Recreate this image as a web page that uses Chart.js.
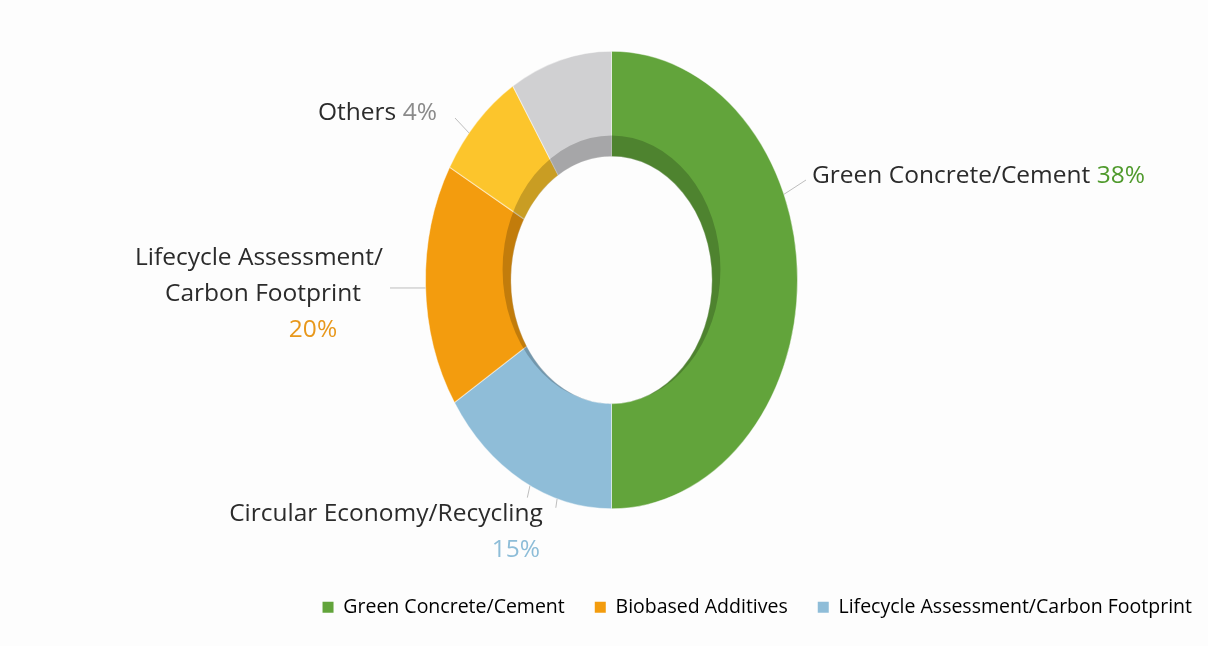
<!DOCTYPE html>
<html lang="en">
<head>
  <meta charset="UTF-8">
  <title>Research focus share</title>
  <script src="https://cdn.jsdelivr.net/npm/chart.js"></script>
  <style>
    html, body { margin: 0; padding: 0; background: #fdfdfd; }
    .wrap { width: 1208px; height: 646px; position: relative; }
  </style>
</head>
<body>
  <div class="wrap"><canvas id="donut"></canvas></div>

<script>
  // slices, clockwise from 12 o'clock (share of the ring as drawn)
  const sliceNames  = ['Green Concrete/Cement', 'Circular Economy/Recycling', 'Lifecycle Assessment/Carbon Footprint', 'Others', 'Unlabelled'];
  const sliceShares = [50, 16.0, 17.2, 7.9, 8.9];
  const sliceColors = ['#62a43b', '#8fbdd8', '#f39c0e', '#fcc52c', '#d0d0d2'];

  // callout text and printed percentages
  const calloutText = [['Green Concrete/Cement'], ['Circular Economy/Recycling'], ['Lifecycle Assessment/', 'Carbon Footprint'], ['Others'], []];
  const calloutPct  = ['38%', '15%', '20%', '4%', ''];
  const pctColors   = ['#4f9a2c', '#8dbdd8', '#e8981c', '#8a8a8a', '#8a8a8a'];

  // legend (as printed under the chart)
  const legendNames  = ['Green Concrete/Cement', 'Biobased Additives', 'Lifecycle Assessment/Carbon Footprint'];
  const legendColors = ['#62a43b', '#f39c0e', '#8fbdd8'];

  // look & placement
  const STRETCH  = 1.23;   // ring is drawn as a tall ellipse
  const CENTER_Y = 280;
  const FONT = "'Open Sans', 'Noto Sans', sans-serif";
  const layout = [
    { ticks: [[68, 806, 180]], lines: [[812, 176, 'left']], pct: 'inline' },
    { ticks: [[206, 0, 12], [197, 0, 9]], lines: [[386, 514, 'center']], pct: [540, 550, 'right'] },
    { ticks: [[268, 390, null]], lines: [[259, 258, 'center'], [263, 294, 'center']], pct: [313, 330, 'center'] },
    { ticks: [[310, 455, 118]], lines: [[318, 113, 'left']], pct: 'inline' },
    { ticks: [], lines: [], pct: null }
  ];

  // point on the (stretched) outer edge at a clockwise angle from the top
  function edgePoint(arc, deg) {
    const a = deg * Math.PI / 180;
    return [arc.x + arc.outerRadius * Math.sin(a), CENTER_Y - arc.outerRadius * Math.cos(a) * STRETCH];
  }

  const ellipse = {
    id: 'ellipse',
    beforeDatasetsDraw(chart) {
      const arc = chart.getDatasetMeta(0).data[0];
      const ctx = chart.ctx;
      ctx.save();
      ctx.translate(arc.x, CENTER_Y);
      ctx.scale(1, STRETCH);
      ctx.translate(-arc.x, -arc.y);
    },
    afterDatasetsDraw(chart) {
      const arc = chart.getDatasetMeta(0).data[0];
      const ctx = chart.ctx;
      // inner wall shading (crescent along the top of the hole)
      const ri = arc.innerRadius, shift = 8.5;
      ctx.beginPath();
      ctx.arc(arc.x, arc.y - shift, ri + shift, 0, Math.PI * 2);
      ctx.arc(arc.x, arc.y, ri, 0, Math.PI * 2);
      ctx.fillStyle = 'rgba(0,0,0,0.2)';
      ctx.fill('evenodd');
      ctx.restore();
    },
    afterDraw(chart) {
      const arc = chart.getDatasetMeta(0).data[0];
      const ctx = chart.ctx;
      ctx.save();
      ctx.strokeStyle = '#bdbdbd';
      ctx.lineWidth = 1;
      ctx.font = '24.5px ' + FONT;
      ctx.textBaseline = 'middle';
      layout.forEach((lay, i) => {
        lay.ticks.forEach(t => {
          const [sx, sy] = edgePoint(arc, t[0]);
          let ex, ey;
          if (t[1] === 0) {            // short outward tick
            const a = t[0] * Math.PI / 180;
            ex = sx + t[2] * Math.sin(a) * 0.5; ey = sy + t[2];
          } else {
            ex = t[1]; ey = t[2] === null ? sy : t[2];
          }
          ctx.beginPath(); ctx.moveTo(sx, sy); ctx.lineTo(ex, ey); ctx.stroke();
        });
        calloutText[i].forEach((txt, j) => {
          const [x, y, align] = lay.lines[j];
          ctx.textAlign = align;
          ctx.fillStyle = '#2b2b2b';
          ctx.fillText(txt, x, y);
          if (lay.pct === 'inline') {
            ctx.textAlign = 'left';
            ctx.fillStyle = pctColors[i];
            ctx.fillText(calloutPct[i], x + ctx.measureText(txt + ' ').width, y);
          }
        });
        if (lay.pct && lay.pct !== 'inline') {
          ctx.textAlign = lay.pct[2];
          ctx.fillStyle = pctColors[i];
          ctx.fillText(calloutPct[i], lay.pct[0], lay.pct[1]);
        }
      });
      ctx.restore();
    }
  };

  new Chart(document.getElementById('donut'), {
    type: 'doughnut',
    data: {
      labels: sliceNames,
      datasets: [{
        data: sliceShares,
        backgroundColor: sliceColors,
        borderColor: 'rgba(255,255,255,0.45)',
        borderWidth: 1,
        radius: 186,
        clip: false
      }]
    },
    options: {
      responsive: true,
      maintainAspectRatio: false,
      animation: false,
      cutout: '54%',
      layout: { padding: { left: 15, right: -14, top: 0, bottom: 19 } },
      plugins: {
        tooltip: { enabled: false },
        legend: {
          position: 'bottom',
          align: 'end',
          labels: {
            boxWidth: 11,
            boxHeight: 11,
            padding: 30,
            color: '#3a3a3a',
            font: { family: FONT, size: 19.5 },
            generateLabels: () => legendNames.map((t, i) => ({
              text: t, fillStyle: legendColors[i], strokeStyle: legendColors[i], lineWidth: 0, hidden: false, index: i
            }))
          }
        }
      }
    },
    plugins: [ellipse]
  });
</script>
</body>
</html>
